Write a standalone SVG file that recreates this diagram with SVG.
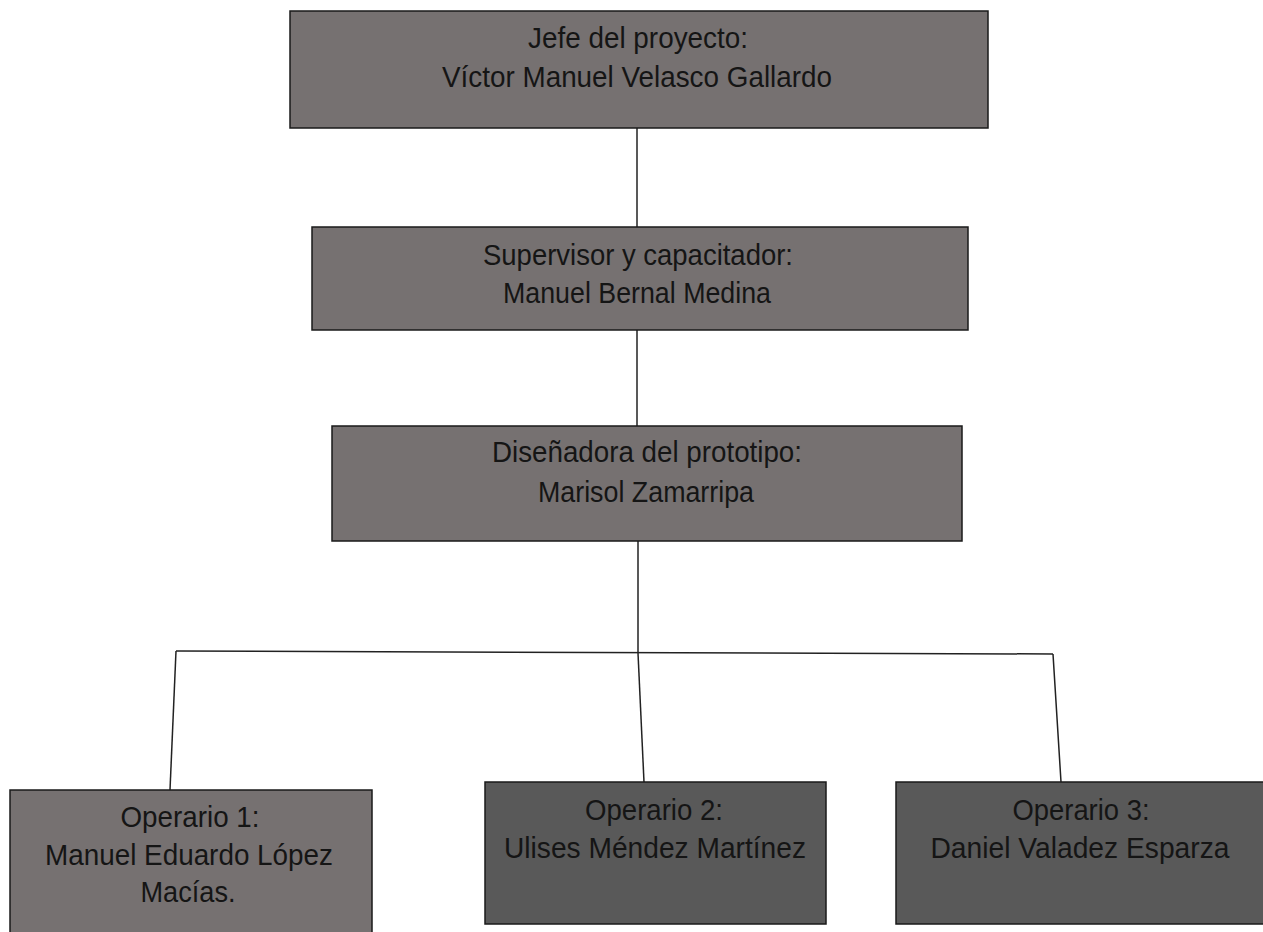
<svg xmlns="http://www.w3.org/2000/svg" width="1263" height="932" viewBox="0 0 1263 932">
<style>
.box{stroke:#1a1a1a;stroke-width:1.5}
.light{fill:#767171}
.dark{fill:#595959}
text{font-family:"Liberation Sans Narrow","Liberation Sans",Arial,sans-serif;font-size:30px;fill:#151515;text-anchor:middle}
.con{stroke:#222;stroke-width:1.5;fill:none}
</style>
<rect width="1263" height="932" fill="#fff"/>
<g id="connectors">
<line class="con" x1="637" y1="128" x2="637" y2="227"/>
<line class="con" x1="637" y1="330" x2="637" y2="426"/>
<line class="con" x1="638" y1="541" x2="638" y2="653"/>
<line class="con" x1="176" y1="651" x2="1053" y2="654"/>
<line class="con" x1="176" y1="651" x2="170" y2="790"/>
<line class="con" x1="638" y1="653" x2="644" y2="782"/>
<line class="con" x1="1053" y1="654" x2="1061" y2="782"/>
</g>
<g id="jefe">
<rect class="box light" x="290" y="11" width="698" height="117"/>
<text x="638" y="48" textLength="220" lengthAdjust="spacingAndGlyphs">Jefe del proyecto:</text>
<text x="637" y="87" textLength="390" lengthAdjust="spacingAndGlyphs">Víctor Manuel Velasco Gallardo</text>
</g>
<g id="supervisor">
<rect class="box light" x="312" y="227" width="656" height="103"/>
<text x="638" y="265" textLength="310" lengthAdjust="spacingAndGlyphs">Supervisor y capacitador:</text>
<text x="637" y="303" textLength="268" lengthAdjust="spacingAndGlyphs">Manuel Bernal Medina</text>
</g>
<g id="disenadora">
<rect class="box light" x="332" y="426" width="630" height="115"/>
<text x="647" y="462" textLength="310" lengthAdjust="spacingAndGlyphs">Diseñadora del prototipo:</text>
<text x="646" y="502" textLength="216" lengthAdjust="spacingAndGlyphs">Marisol Zamarripa</text>
</g>
<g id="operario1">
<rect class="box light" x="10" y="790" width="362" height="150"/>
<text x="190" y="827" textLength="139" lengthAdjust="spacingAndGlyphs">Operario 1:</text>
<text x="189" y="865" textLength="288" lengthAdjust="spacingAndGlyphs">Manuel Eduardo López</text>
<text x="188" y="902" textLength="95" lengthAdjust="spacingAndGlyphs">Macías.</text>
</g>
<g id="operario2">
<rect class="box dark" x="485" y="782" width="341" height="142"/>
<text x="654" y="820" textLength="138" lengthAdjust="spacingAndGlyphs">Operario 2:</text>
<text x="655" y="858" textLength="302" lengthAdjust="spacingAndGlyphs">Ulises Méndez Martínez</text>
</g>
<g id="operario3">
<rect class="box dark" x="896" y="782" width="380" height="142"/>
<text x="1081" y="820" textLength="137" lengthAdjust="spacingAndGlyphs">Operario 3:</text>
<text x="1080" y="858" textLength="299" lengthAdjust="spacingAndGlyphs">Daniel Valadez Esparza</text>
</g>
</svg>
